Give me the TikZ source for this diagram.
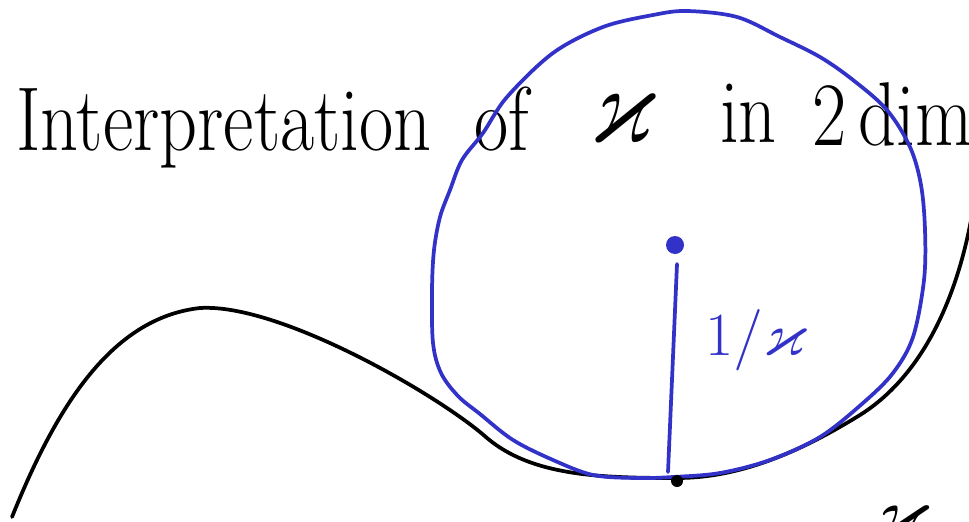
\RequirePackage{fix-cm}
\documentclass[tikz,border=0pt]{standalone}
\usepackage{amssymb}
\DeclareFontFamily{U}{msb}{}
\DeclareFontShape{U}{msb}{m}{n}{<-> msbm10}{}
\definecolor{penblue}{RGB}{50,50,200}
\tikzset{
  ink/.style={line width=2.8pt, line cap=round, line join=round},
  titletext/.style={font=\fontsize{68}{74}\selectfont, inner sep=0pt, anchor=base west, xscale=0.82},
}
\begin{document}
\begin{tikzpicture}[x=0.75pt,y=-0.75pt]
\useasboundingbox (0,0) rectangle (969,521);
\clip (0,0) rectangle (969,521);
% title
\node[titletext] (t1) at (16,150) {Interpretation};
\node[titletext] (t2) at (474,150) {of};
\node[titletext,font=\fontsize{84}{88}\selectfont] (t3) at (590,142) {$\varkappa$};
\node[titletext] (t4) at (720,142) {in};
\node[titletext] (t5) at (812,145) {2\,dimensions};
% black curve
\draw[ink,black] (12,517) .. controls (55,410) and (110,318) .. (200,308)
  .. controls (280,303) and (440,396) .. (487,438)
  .. controls (532,476) and (600,478) .. (677,478)
  .. controls (740,478) and (800,452) .. (860,415)
  .. controls (900,390) and (950,335) .. (972,215);
% osculating circle (hand drawn)
\draw[ink,penblue] plot[smooth cycle,tension=0.55] coordinates {
  (687,11) (737,17) (780,37) (820,57) (853,80) (887,110) (910,147) (921,185)
  (925,230) (924,280) (913,337) (893,373) (863,403) (820,437) (770,460)
  (720,473) (673,477) (637,478) (593,475) (553,460) (513,440) (480,414)
  (458,396) (441,373) (433,343) (432,290) (434,250) (440,217) (450,190)
  (462,160) (483,133) (507,97) (553,53) (603,27) (653,15)};
\coordinate (c) at (675,245);
\coordinate (p) at (677,481);
\fill[penblue] (c) circle (9);
\draw[ink,penblue] (677,264) -- (668,472);
\node[penblue,font=\fontsize{46}{52}\selectfont,inner sep=0pt] (r) at (756,340) {$1/\varkappa$};
\fill[black] (p) circle (6);
\node[font=\fontsize{60}{66}\selectfont,inner sep=0pt,anchor=north west] (k2) at (872,506) {$\varkappa$};
\end{tikzpicture}
\end{document}
